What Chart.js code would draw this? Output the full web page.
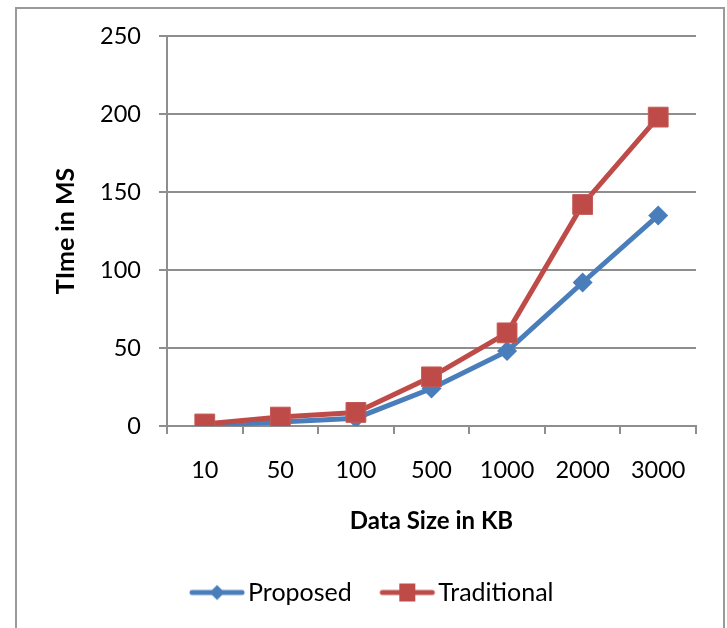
<!DOCTYPE html>
<html>
<head>
<meta charset="utf-8">
<script src="https://cdn.jsdelivr.net/npm/chart.js@4/dist/chart.umd.min.js"></script>
<style>
  html, body { margin: 0; padding: 0; background: #fff; }
  #wrap { position: relative; width: 727px; height: 628px; }
</style>
</head>
<body>
<div id="wrap"><canvas id="c" width="727" height="628"></canvas></div>
<script>
const categories = ['10', '50', '100', '500', '1000', '2000', '3000'];
const proposed = [0.5, 2.5, 5, 24, 48, 92, 135];
const traditional = [1.3, 5.7, 8.7, 31.5, 59.7, 142, 198];
const yTicks = [0, 50, 100, 150, 200, 250];
const seriesNames = ['Proposed', 'Traditional'];
const xTitle = 'Data Size in KB';
const yTitle = 'TIme in MS';

const BLUE = '#4a7ebb';
const RED = '#be4b48';
const GRID = '#8e8e8e';
const FONT = 'Lato, "Open Sans", sans-serif';

function legendImage(color, shape) {
  const c = document.createElement('canvas');
  c.width = 60; c.height = 22;
  const g = c.getContext('2d');
  g.strokeStyle = color; g.lineWidth = 5; g.lineCap = 'round';
  g.beginPath(); g.moveTo(5, 11); g.lineTo(55, 11); g.stroke();
  g.fillStyle = color;
  g.beginPath();
  if (shape === 'diamond') {
    g.moveTo(30, 3.5); g.lineTo(37.5, 11); g.lineTo(30, 18.5); g.lineTo(22.5, 11);
  } else {
    g.rect(22, 2, 16, 18);
  }
  g.closePath(); g.fill();
  return c;
}
const legendImgs = [legendImage(BLUE, 'diamond'), legendImage(RED, 'square')];

const frame = {
  id: 'frame',
  beforeDraw(chart) {
    const ctx = chart.ctx;
    ctx.save();
    ctx.strokeStyle = '#9a9a9a';
    ctx.lineWidth = 2;
    ctx.beginPath();
    ctx.moveTo(16, 640); ctx.lineTo(16, 8); ctx.lineTo(724, 8); ctx.lineTo(724, 640);
    ctx.stroke();
    ctx.restore();
  }
};

new Chart(document.getElementById('c'), {
  type: 'line',
  data: {
    labels: categories,
    datasets: [
      {
        label: seriesNames[0], data: proposed,
        borderColor: BLUE, backgroundColor: BLUE, borderWidth: 5,
        pointStyle: 'rectRot', pointRadius: 10, pointHoverRadius: 10,
        pointBackgroundColor: BLUE, pointBorderColor: BLUE, pointBorderWidth: 0,
        tension: 0, order: 1
      },
      {
        label: seriesNames[1], data: traditional,
        borderColor: RED, backgroundColor: RED, borderWidth: 5,
        pointStyle: 'rect', pointRadius: 14, pointHoverRadius: 14,
        pointBackgroundColor: RED, pointBorderColor: '#c45a57', pointBorderWidth: 1,
        tension: 0, order: 0
      }
    ]
  },
  options: {
    responsive: false,
    animation: false,
    devicePixelRatio: 1,
    layout: { padding: { left: 25, right: 0, top: 36, bottom: 13 } },
    font: { family: FONT },
    plugins: {
      tooltip: { enabled: false },
      legend: {
        position: 'bottom',
        labels: {
          usePointStyle: true,
          pointStyleWidth: 37,
          padding: 37,
          color: '#000',
          font: { family: FONT, size: 25 },
          sort: (a, b) => a.datasetIndex - b.datasetIndex,
          generateLabels(chart) {
            return chart.data.datasets.map((ds, i) => ({
              text: ds.label, datasetIndex: i, pointStyle: legendImgs[i],
              fillStyle: ds.borderColor, strokeStyle: ds.borderColor, lineWidth: 0,
              fontColor: '#000', hidden: false
            }));
          }
        }
      }
    },
    scales: {
      x: {
        type: 'category',
        offset: true,
        grid: { display: true, drawOnChartArea: false, drawTicks: true, tickLength: 8, offset: true, color: GRID, lineWidth: 2 },
        border: { display: true, color: GRID, width: 2 },
        ticks: { color: '#000', padding: 22, font: { family: FONT, size: 23.5 }, maxRotation: 0 },
        title: { display: true, text: xTitle, color: '#000', font: { family: FONT, size: 24, weight: 'bold' }, padding: { top: 0, bottom: 7 } },
        afterFit(s) { s.height = 117; }
      },
      y: {
        min: 0, max: 250,
        afterBuildTicks(s) { s.ticks = yTicks.map(v => ({ value: v })); },
        grid: { color: GRID, lineWidth: 2, tickLength: 8, drawTicks: true },
        border: { display: true, color: GRID, width: 2 },
        ticks: { color: '#000', padding: 18, font: { family: FONT, size: 23.5 } },
        title: { display: true, text: yTitle, color: '#000', font: { family: FONT, size: 25, weight: 'bold' }, padding: { top: 26, bottom: 0 } },
        afterFit(s) { s.width = 142; }
      },
      yr: {
        position: 'right', display: true,
        grid: { display: false }, border: { display: false }, ticks: { display: false },
        afterFit(s) { s.width = 31; }
      }
    }
  },
  plugins: [frame]
});
</script>
</body>
</html>
